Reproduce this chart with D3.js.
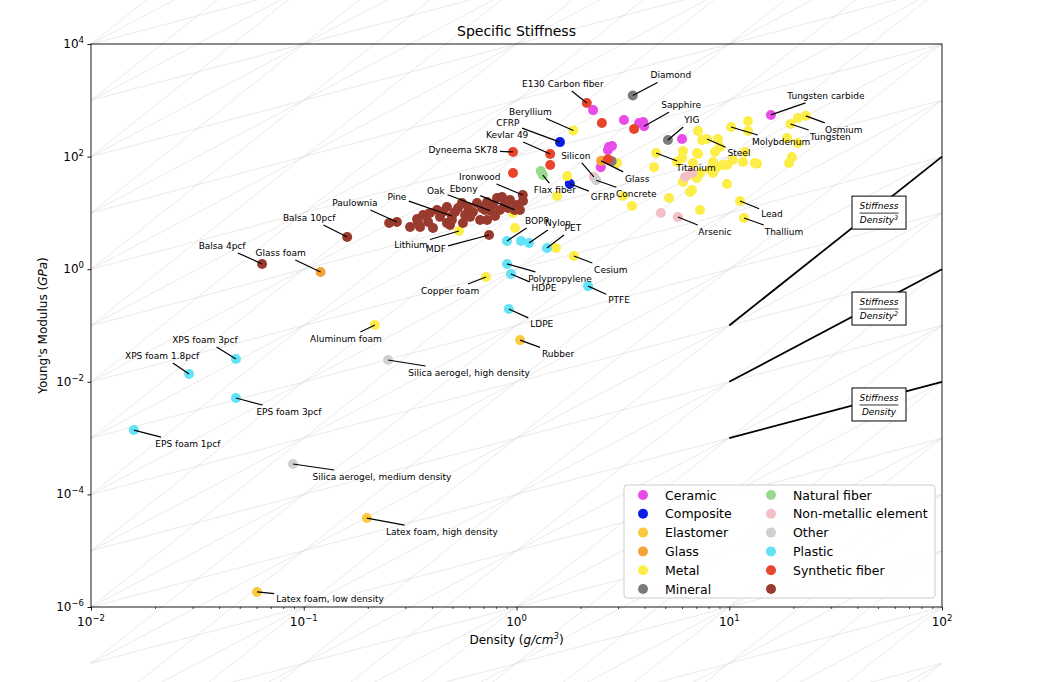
<!DOCTYPE html>
<html><head><meta charset="utf-8">
<script src="https://cdn.jsdelivr.net/npm/d3@7/dist/d3.min.js"></script>
<style>
html,body{margin:0;padding:0;background:#fff;}
svg text{font-family:"DejaVu Sans","Liberation Sans",sans-serif;fill:#000;}
</style></head><body>
<svg id="chart" width="1050" height="682"></svg>
<script>
// ---------------- DATA ----------------
const categories = ["Ceramic","Composite","Elastomer","Glass","Metal","Mineral","Natural fiber","Non-metallic element","Other","Plastic","Synthetic fiber",""];
const categoryColors = ["#e74ce9","#0a1ee6","#f9c93e","#f4a338","#fdee47","#7b7b7b","#98d98e","#f4c0c6","#d0d0d0","#62e3f7","#e8452c","#993a2e"];

// [density g/cm3, Young's modulus GPa, label]
const ceramic = [[15.7,550,"Tungsten carbide"],[2.29,670,""],[3.2,447,""],[3.77,395,""],[3.94,412,""],[3.98,345,"Sapphire"],[6.0,206,""],[2.72,148,""],[2.81,154,""],[2.69,131,""],[2.49,65,""]];
const composite = [[1.6,181,"CFRP"],[1.78,33,"GFRP"]];
const elastomer = [[1.04,0.055,"Rubber"],[0.198,3.8e-5,"Latex foam, high density"],[0.0603,1.85e-6,"Latex foam, low density"]];
const glass = [[0.12,0.89,"Glass foam"],[2.5,84,"Glass"]];
const metal = [[1.85,290,"Beryllium"],[1.73,45,""],[1.55,20,""],[3.49,13.3,""],[3.17,20,""],[4.53,116,"Titanium"],[4.43,65,""],[6.06,126,""],[7.13,111,""],[5.21,18.4,""],[7.29,11.3,""],[9.76,32.6,""],[11.23,16.3,"Lead"],[11.73,8.1,"Thallium"],[7.13,285,""],[7.86,205,"Steel"],[8.85,205,""],[8.57,121,""],[9.05,148,""],[10.2,336,"Molybdenum"],[12.25,429,""],[12.25,285,""],[11.6,80,""],[13.2,77,""],[8.39,80,""],[9.76,71,""],[10.4,87,""],[6.54,47,""],[7.29,51,""],[6.06,35.4,""],[6.54,23.5,""],[8.39,51,""],[6.75,77,""],[5.68,80,""],[2.97,77,""],[0.963,9.96,""],[0.984,5.4,""],[1.53,2.38,""],[1.86,1.72,"Cesium"],[0.537,4.77,"Lithium"],[0.719,0.727,"Copper foam"],[0.216,0.102,"Aluminum foam"],[18.7,214,""],[21.0,175,""],[19.7,98,""],[19.1,77,""],[19.4,379,"Tungsten"],[21.0,485,""],[22.9,530,"Osmium"],[11.86,121,""],[7.05,116,""],[8.75,65,""],[8.12,57.8,""],[7.05,41.7,""],[6.68,25.5,""],[9.35,71,""],[7.45,197,""],[13.5,75,""],[6.0,94,""]];
const mineral = [[3.52,1220,"Diamond"],[5.15,197,"YIG"],[2.8,83,""]];
const naturalFiber = [[1.30,55.5,""],[1.33,47,"Flax fiber"]];
const nonMetal = [[5.74,8.45,"Arsenic"],[4.77,9.95,""],[2.31,43.5,"Silicon"],[6.2,43.5,""],[6.68,51,""]];
const other = [[2.37,38,"Concrete"],[0.249,0.0244,"Silica aerogel, high density"],[0.089,3.47e-4,"Silica aerogel, medium density"]];
const plastic = [[0.902,3.17,"BOPP"],[1.05,3.17,""],[1.145,2.92,"Nylon"],[1.39,2.38,"PET"],[0.902,1.24,"Polypropylene"],[0.942,0.82,"HDPE"],[2.17,0.50,"PTFE"],[0.92,0.196,"LDPE"],[0.048,0.0254,"XPS foam 3pcf"],[0.0289,0.0138,"XPS foam 1.8pcf"],[0.048,0.00515,"EPS foam 3pcf"],[0.0159,0.00139,"EPS foam 1pcf"]];
const syntheticFiber = [[2.14,896,"E130 Carbon fiber"],[2.52,396,""],[3.57,309,""],[1.44,111,"Kevlar 49"],[1.44,71,""],[0.963,121,"Dyneema SK78"],[0.963,51,""],[2.69,90,""]];
const wood = [[0.316,5.6,""],[0.341,7.8,""],[0.364,9.2,""],[0.392,10.0,""],[0.405,5.4,""],[0.423,11.3,""],[0.437,8.5,""],[0.451,10.4,""],[0.471,12.7,""],[0.497,7.5,""],[0.514,10.4,""],[0.531,12.2,""],[0.554,15.0,""],[0.573,9.2,""],[0.592,12.7,""],[0.624,10.4,""],[0.652,15.0,""],[0.674,7.5,""],[0.688,12.2,""],[0.727,15.6,""],[0.775,13.8,""],[0.81,18.4,""],[0.836,11.3,""],[0.855,19.2,""],[0.883,15.0,""],[0.912,12.2,""],[1.005,13.8,""],[1.038,11.3,""],[1.073,16.3,""],[0.352,5.6,""],[0.471,6.6,""],[0.56,6.6,""],[0.344,6.9,""],[0.487,6.1,""],[0.727,7.5,""],[0.384,6.9,""],[0.605,8.5,""],[0.793,8.8,""],[0.711,11.3,""],[0.932,16.9,""],[0.497,8.8,"Pine"],[0.75,11,"Oak"],[0.98,11.3,"Ebony"],[1.07,20.8,"Ironwood"],[0.743,4.05,"MDF"],[0.252,6.6,""],[0.274,6.9,"Paulownia"],[0.16,3.73,"Balsa 10pcf"],[0.0637,1.24,"Balsa 4pcf"]];

const seriesData = [ceramic,composite,elastomer,glass,metal,mineral,naturalFiber,nonMetal,other,plastic,syntheticFiber,wood];

const xTickValues = [1e-2,1e-1,1,10,100];
const xTickExponents = ["\u22122","\u22121","0","1","2"];
const yTickValues = [1e-6,1e-4,1e-2,1,1e2,1e4];
const yTickExponents = ["\u22126","\u22124","\u22122","0","2","4"];
const guidePowers = [1,2,3];          // Stiffness / Density^n
const guideStartModulus = [1e-3,1e-2,1e-1]; // modulus at density 10
const guideDensityRange = [10,100];

// annotation text offsets (px, text centre relative to point)
const labelOffsets = {
 "Diamond":[38,-20],"E130 Carbon fiber":[-24,-19],"Sapphire":[37,-21],"YIG":[24,-20],
 "Tungsten carbide":[55,-19],"Osmium":[38,14],"Tungsten":[40,13],"Molybdenum":[50,15],
 "Steel":[32,14],"Titanium":[40,15],"Beryllium":[-43,-19],"CFRP":[-52,-19],"Kevlar 49":[-43,-19],
 "Dyneema SK78":[-50,-2],"Silicon":[-18,-21],"Glass":[36,18],"Concrete":[40,14],"GFRP":[33,13],
 "Flax fiber":[12,15],"Ironwood":[-43,-18],"Ebony":[-51,-21],"Oak":[-54,-20],"Pine":[-55,-19],
 "Paulownia":[-42,-19],"Balsa 10pcf":[-38,-19],"Balsa 4pcf":[-40,-18],"Glass foam":[-40,-19],
 "Lithium":[-48,14],"MDF":[-53,14],"BOPP":[30,-20],"Nylon":[29,-20],"PET":[26,-20],"Cesium":[37,14],
 "Polypropylene":[53,15],"HDPE":[33,14],"Copper foam":[-36,14],"PTFE":[31,14],"LDPE":[33,15],
 "Aluminum foam":[-29,14],"Rubber":[38,14],"Silica aerogel, high density":[81,13],
 "XPS foam 3pcf":[-31,-19],"XPS foam 1.8pcf":[-27,-18],"EPS foam 3pcf":[53,14],"EPS foam 1pcf":[54,14],
 "Silica aerogel, medium density":[89,13],"Latex foam, high density":[75,14],
 "Latex foam, low density":[73,7],"Arsenic":[37,15],"Lead":[32,13],"Thallium":[40,14]
};

// ---------------- CHART ----------------
const svg = d3.select("#chart");
const L=91,R=942,T=44,B=607;
const x = d3.scaleLog().domain([1e-2,1e2]).range([L,R]);
const y = d3.scaleLog().domain([1e-6,1e4]).range([B,T]);

// background guide grid (constant E/rho^n), unclipped
const gridG = svg.append("g");
guidePowers.forEach(n=>{
  d3.range(-20,6).forEach(k=>{
    gridG.append("line")
      .attr("x1",x(1e-2)).attr("y1",y(Math.pow(10,k)))
      .attr("x2",x(1e2)).attr("y2",y(Math.pow(10,k+4*n)))
      .attr("stroke","#d4d4d4").attr("stroke-width",0.5);
  });
});

// thick guide lines
const guideG = svg.append("g");
guidePowers.forEach((n,i)=>{
  const e0 = guideStartModulus[i];
  const d0 = guideDensityRange[0], d1 = guideDensityRange[1];
  guideG.append("line")
    .attr("x1",x(d0)).attr("y1",y(e0))
    .attr("x2",x(d1)).attr("y2",y(e0*Math.pow(d1/d0,n)))
    .attr("stroke","#000").attr("stroke-width",1.8);
  const dc = x.invert(879);
  const xc = x(dc), yc = y(e0*Math.pow(dc/d0,n))+6;
  const bw=54,bh=33;
  guideG.append("rect").attr("x",xc-bw/2).attr("y",yc-bh/2).attr("width",bw).attr("height",bh)
    .attr("fill","#fff").attr("stroke","#000").attr("stroke-width",1);
  guideG.append("text").attr("x",xc).attr("y",yc-3.5).attr("text-anchor","middle")
    .attr("font-size",9).attr("font-style","italic").text("Stiffness");
  guideG.append("line").attr("x1",xc-19.5).attr("x2",xc+19.5).attr("y1",yc+0.5).attr("y2",yc+0.5)
    .attr("stroke","#000").attr("stroke-width",0.8);
  const t2 = guideG.append("text").attr("x",xc).attr("y",yc+10.5).attr("text-anchor","middle")
    .attr("font-size",9).attr("font-style","italic");
  t2.append("tspan").text("Density");
  if(n>1) t2.append("tspan").attr("font-size",6.5).attr("dy",-3.5).text(String(n));
});

// points
const ptG = svg.append("g");
seriesData.forEach((arr,i)=>{
  ptG.selectAll(null).data(arr).enter().append("circle")
    .attr("cx",d=>x(d[0])).attr("cy",d=>y(d[1])).attr("r",5)
    .attr("fill",categoryColors[i]);
});

// annotations
const annG = svg.append("g");
seriesData.forEach(arr=>arr.filter(d=>d[2]).forEach(d=>{
  const off = labelOffsets[d[2]] || [30,14];
  const px=x(d[0]), py=y(d[1]);
  const t = annG.append("text").attr("x",px+off[0]).attr("y",py+off[1])
    .attr("text-anchor","middle").attr("dominant-baseline","central")
    .attr("font-size",9).attr("fill","#111").text(d[2]);
  const bb = t.node().getBBox();
  const pad=2;
  const cx=bb.x+bb.width/2, cy=bb.y+bb.height/2;
  const hw=bb.width/2+pad, hh=bb.height/2+pad;
  const dx=px-cx, dy=py-cy;
  let s=1;
  if(dx!==0) s=Math.min(s,hw/Math.abs(dx));
  if(dy!==0) s=Math.min(s,hh/Math.abs(dy));
  annG.insert("line","text").attr("x1",px).attr("y1",py).attr("x2",cx+dx*s).attr("y2",cy+dy*s)
    .attr("stroke","#000").attr("stroke-width",1.2);
}));

// axes frame
svg.append("rect").attr("x",L).attr("y",T).attr("width",R-L).attr("height",B-T)
  .attr("fill","none").attr("stroke","#000").attr("stroke-width",0.9);

// x ticks
const xMinor=[];
[1e-2,1e-1,1,10].forEach(dec=>d3.range(2,10).forEach(m=>xMinor.push(dec*m)));
const xAx = svg.append("g").attr("transform",`translate(0,${B})`)
  .call(d3.axisBottom(x).tickValues(xTickValues).tickSize(3.5).tickSizeOuter(0).tickFormat(()=>""));
xAx.select(".domain").remove();
xAx.selectAll(".tick line").attr("stroke-width",0.9);
const xAxm = svg.append("g").attr("transform",`translate(0,${B})`)
  .call(d3.axisBottom(x).tickValues(xMinor).tickSize(2).tickSizeOuter(0).tickFormat(()=>""));
xAxm.select(".domain").remove();
xAxm.selectAll(".tick line").attr("stroke-width",0.7);
xTickValues.forEach((v,i)=>{
  const t = svg.append("text").attr("x",x(v)).attr("y",626).attr("text-anchor","middle").attr("font-size",12);
  t.append("tspan").text("10");
  t.append("tspan").attr("font-size",8.5).attr("dy",-5).text(xTickExponents[i]);
});
// y ticks
const yAx = svg.append("g").attr("transform",`translate(${L},0)`)
  .call(d3.axisLeft(y).tickValues(yTickValues).tickSize(3.5).tickSizeOuter(0).tickFormat(()=>""));
yAx.select(".domain").remove();
yAx.selectAll(".tick line").attr("stroke-width",0.9);
yTickValues.forEach((v,i)=>{
  const t = svg.append("text").attr("x",84).attr("y",y(v)+4).attr("text-anchor","end").attr("font-size",12);
  t.append("tspan").text("10");
  t.append("tspan").attr("font-size",8.5).attr("dy",-5).text(yTickExponents[i]);
});

// title and axis labels
svg.append("text").attr("x",(L+R)/2).attr("y",36).attr("text-anchor","middle").attr("font-size",14).text("Specific Stiffness");
const xl = svg.append("text").attr("x",(L+R)/2).attr("y",644).attr("text-anchor","middle").attr("font-size",12);
xl.append("tspan").text("Density (");
xl.append("tspan").attr("font-style","italic").text("g/cm");
xl.append("tspan").attr("font-style","italic").attr("font-size",8.5).attr("dy",-5).text("3");
xl.append("tspan").attr("dy",5).text(")");
const yl = svg.append("text").attr("transform",`translate(47,${(T+B)/2}) rotate(-90)`).attr("text-anchor","middle").attr("font-size",12);
yl.append("tspan").text("Young's Modulus (");
yl.append("tspan").attr("font-style","italic").text("GPa");
yl.append("tspan").text(")");

// legend
const lg = svg.append("g");
lg.append("rect").attr("x",624).attr("y",485).attr("width",311).attr("height",113).attr("rx",3)
  .attr("fill","#fff").attr("fill-opacity",0.85).attr("stroke","#cccccc").attr("stroke-width",1);
categories.forEach((c,i)=>{
  const col = Math.floor(i/6), row = i%6;
  const mx = col===0?643:771, ty = 495+row*18.8;
  lg.append("circle").attr("cx",mx).attr("cy",ty).attr("r",5).attr("fill",categoryColors[i]);
  if(c) lg.append("text").attr("x",mx+22).attr("y",ty).attr("dominant-baseline","central").attr("font-size",12.5).text(c);
});
</script>
</body></html>
